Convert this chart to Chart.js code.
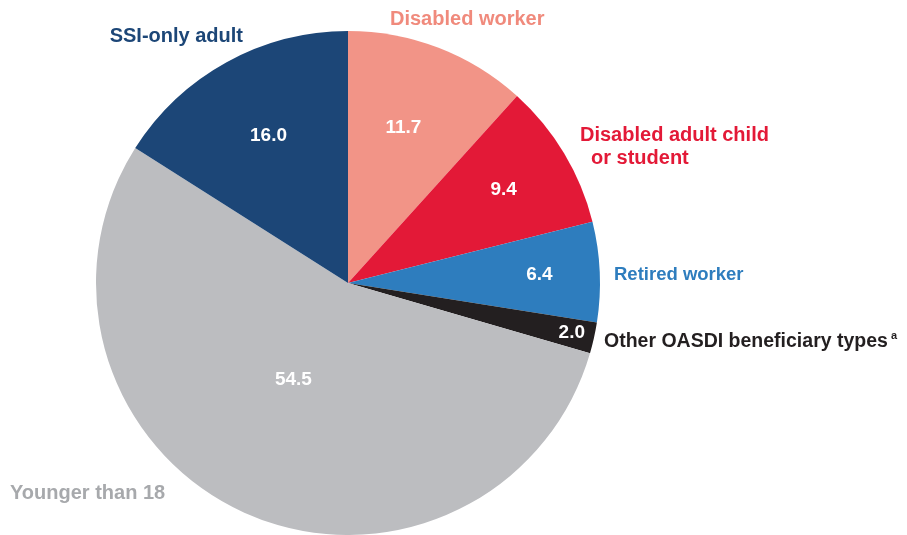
<!DOCTYPE html>
<html>
<head>
<meta charset="utf-8">
<script src="https://cdn.jsdelivr.net/npm/chart.js@4"></script>
<style>
  html, body { margin: 0; padding: 0; background: #fff; }
  #wrap { width: 907px; height: 535px; }
</style>
</head>
<body>
<div id="wrap"><canvas id="myChart" width="907" height="535"></canvas></div>
<script>
// Slices, clockwise from 12 o'clock
let categories = ['Disabled worker', 'Disabled adult child or student', 'Retired worker',
                  'Other OASDI beneficiary types', 'Younger than 18', 'SSI-only adult'];
let percents = [11.7, 9.4, 6.4, 2.0, 54.5, 16.0];
let valueLabels = ['11.7', '9.4', '6.4', '2.0', '54.5', '16.0'];

let sliceColors = ['#F29487', '#E31937', '#2E7DBE', '#231F20', '#BCBDC0', '#1C4677'];
let textColors = ['#F08A7C', '#E31937', '#2E7DBE', '#231F20', '#A7A9AC', '#1C4677'];

// where each value sits: fraction of radius, and a small angle nudge (degrees)
let valueRadius = [0.653, 0.72, 0.76, 0.91, 0.44, 0.663];
let valueNudge = [-1.4, 0, 0, 0, 5.2, 0.4];
let nameSpots = [
  { lines: ['Disabled worker'], x: 390, y: 19, align: 'left', size: 20 },
  { lines: ['Disabled adult child', 'or student'], x: 580, y: 135, align: 'left', indent: [0, 11], size: 20 },
  { lines: ['Retired worker'], x: 614, y: 275, align: 'left', size: 18.5 },
  { lines: ['Other OASDI beneficiary types'], x: 604, y: 342, align: 'left', sup: 'a', size: 19.5 },
  { lines: ['Younger than 18'], x: 10, y: 493, align: 'left', size: 20 },
  { lines: ['SSI-only adult'], x: 243, y: 36, align: 'right', size: 20 }
];

const FONT = '"Liberation Sans", Arial, sans-serif';

const pieLabels = {
  id: 'pieLabels',
  afterDatasetsDraw(chart) {
    const ctx = chart.ctx;
    const arcs = chart.getDatasetMeta(0).data;
    ctx.save();
    ctx.textBaseline = 'middle';
    ctx.font = 'bold 19px ' + FONT;
    ctx.fillStyle = '#fff';
    ctx.textAlign = 'center';
    arcs.forEach((arc, i) => {
      const mid = (arc.startAngle + arc.endAngle) / 2 + valueNudge[i] * Math.PI / 180;
      const r = arc.outerRadius * valueRadius[i];
      ctx.fillText(valueLabels[i], arc.x + Math.cos(mid) * r, arc.y + Math.sin(mid) * r);
    });
    nameSpots.forEach((s, i) => {
      ctx.fillStyle = textColors[i];
      s.lines.forEach((line, j) => {
        ctx.font = 'bold ' + s.size + 'px ' + FONT;
        ctx.textAlign = s.align;
        const dx = s.indent ? s.indent[j] : 0;
        ctx.fillText(line, s.x + dx, s.y + j * 23);
        if (s.sup) {
          const w = ctx.measureText(line).width;
          ctx.font = 'bold 11px ' + FONT;
          ctx.textAlign = 'left';
          ctx.fillText(s.sup, s.x + dx + w + 3, s.y - 6);
        }
      });
    });
    ctx.restore();
  }
};

new Chart(document.getElementById('myChart'), {
  type: 'pie',
  data: {
    labels: categories,
    datasets: [{
      data: percents,
      backgroundColor: sliceColors,
      borderWidth: 0
    }]
  },
  options: {
    responsive: false,
    animation: false,
    layout: { padding: { left: 96, right: 307, top: 31, bottom: 0 } },
    plugins: { legend: { display: false }, tooltip: { enabled: false } }
  },
  plugins: [pieLabels]
});
</script>
</body>
</html>
